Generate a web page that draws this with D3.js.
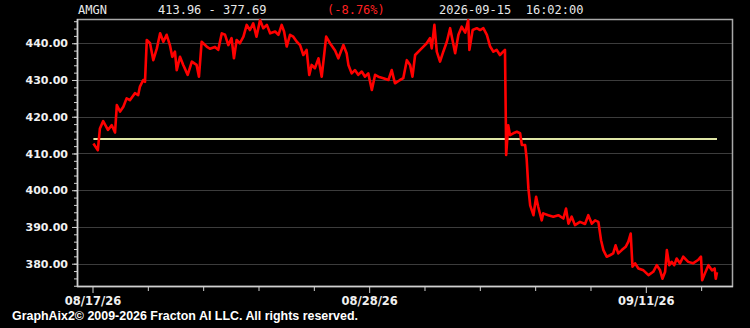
<!DOCTYPE html>
<html>
<head>
<meta charset="utf-8">
<script src="https://cdn.jsdelivr.net/npm/d3@7"></script>
<style>
  body { margin: 0; background: #000; }
  svg { display: block; }
</style>
</head>
<body>
<div id="chart"></div>
<script>
// quote header
var symbol = "AMGN";
var prevClose = 413.96;
var lastPrice = 377.69;
var changePct = "(-8.76%)";
var stamp = "2026-09-15  16:02:00";

// time in trading days since 08/17 open
var times = [0.03, 0.18, 0.25, 0.36, 0.52, 0.65, 0.76, 0.82, 0.93, 1.04, 1.15, 1.26, 1.43, 1.54, 1.60, 1.71, 1.77,
  1.83, 1.94, 2.05, 2.17, 2.28, 2.39, 2.50, 2.61, 2.69, 2.78, 2.84, 2.95, 3.06, 3.21, 3.35, 3.51, 3.59, 3.68,
  3.85, 3.96, 4.13, 4.24, 4.36, 4.47, 4.58, 4.69, 4.77, 4.86, 4.97, 5.09, 5.20, 5.31, 5.42, 5.53, 5.65, 5.76,
  5.88, 5.99, 6.16, 6.27, 6.38, 6.46, 6.55, 6.66, 6.77, 6.89, 7.00, 7.11, 7.22, 7.31, 7.39, 7.50, 7.62, 7.73,
  7.88, 8.01, 8.18, 8.29, 8.46, 8.57, 8.63, 8.74, 8.85, 8.96, 9.08, 9.19, 9.30, 9.42, 9.53, 9.64, 9.81, 9.98,
  10.09, 10.20, 10.37, 10.48, 10.60, 10.71, 10.79, 10.88, 11.05, 11.16, 11.27, 11.38, 11.44, 11.53, 11.61,
  11.72, 11.83, 11.95, 12.06, 12.14, 12.23, 12.34, 12.45, 12.57, 12.67, 12.71, 12.82, 12.96, 13.07, 13.18,
  13.30, 13.41, 13.52, 13.63, 13.74, 13.85, 13.91, 13.94, 13.95, 14.02, 14.08, 14.19, 14.31, 14.42, 14.48,
  14.59, 14.64, 14.70, 14.76, 14.87, 14.96, 15.03, 15.15, 15.20, 15.37, 15.54, 15.71, 15.88, 15.97, 16.05,
  16.16, 16.27, 16.44, 16.61, 16.72, 16.84, 16.95, 17.06, 17.15, 17.23, 17.34, 17.45, 17.56, 17.64, 17.73,
  17.85, 17.98, 18.07, 18.15, 18.21, 18.30, 18.41, 18.58, 18.75, 18.91, 19.03, 19.14, 19.22, 19.31, 19.37,
  19.45, 19.53, 19.62, 19.70, 19.81, 19.92, 20.09, 20.25, 20.42, 20.52, 20.56, 20.65, 20.77, 20.89, 20.98,
  21.02, 21.06];

var prices = [412.7, 410.9, 416.8, 418.8, 416.4, 417.7, 415.7, 423.2, 421.4, 422.7, 425.0, 424.5, 426.4, 425.9, 428.2, 430.0, 429.5,
  440.9, 440.0, 435.4, 438.6, 442.7, 440.4, 442.3, 439.5, 436.3, 437.7, 432.7, 436.3, 434.1, 431.4, 435.0, 434.1, 430.9, 440.4,
  439.1, 438.5, 439.0, 438.2, 442.7, 442.3, 439.5, 441.4, 435.9, 440.9, 440.0, 441.8, 445.0, 443.6, 445.4, 441.8, 446.3, 444.1,
  445.0, 442.7, 443.2, 442.3, 445.0, 443.2, 439.1, 442.3, 441.8, 440.4, 439.5, 436.8, 438.2, 431.4, 434.1, 433.2, 435.9, 430.9,
  441.8, 440.0, 438.0, 435.9, 439.5, 437.3, 434.1, 431.8, 432.7, 431.4, 432.3, 430.9, 431.8, 427.3, 431.4, 430.9, 430.5, 430.0,
  432.7, 429.1, 430.0, 430.5, 435.4, 434.1, 430.9, 436.8, 438.2, 439.1, 440.0, 441.4, 438.6, 445.0, 437.7,
  435.0, 437.7, 440.4, 444.1, 440.9, 437.3, 442.3, 444.5, 442.9, 446.3, 438.2, 443.6, 444.1, 443.6, 444.1,
  442.3, 439.1, 437.7, 438.2, 436.8, 437.7, 438.2, 417.7, 409.6, 417.7, 415.0, 415.5, 415.9, 415.5, 412.3,
  412.3, 408.7, 400.5, 395.9, 393.2, 398.2, 395.5, 391.8, 393.7, 393.2, 392.8, 393.2, 392.3, 395.0, 390.9,
  392.8, 390.5, 391.4, 390.8, 393.2, 390.9, 391.8, 391.4, 386.4, 383.7, 381.9, 382.3, 382.8, 385.0, 382.8,
  383.7, 384.6, 386.0, 388.2, 379.2, 380.1, 378.7, 378.2, 376.9, 377.8, 379.6, 378.2, 375.9, 377.8, 383.7,
  379.6, 380.5, 379.6, 381.4, 380.1, 381.9, 380.5, 380.1, 381.0, 381.9, 375.5, 377.3, 379.6, 378.2, 378.7,
  375.9, 377.69];

// axis ticks
var xTickValues = [0, 1.866, 3.732, 5.598, 7.464, 9.33, 11.196, 13.062, 14.928, 16.794, 18.66, 20.526];
var xTickLabels = ["08/17/26", "", "", "", "", "08/28/26", "", "", "", "", "09/11/26", ""];
var yTickValues = [380, 390, 400, 410, 420, 430, 440];

var svgWidth = 750;
var svgHeight = 328;

var margin = { top: 19, right: 17, bottom: 41, left: 77 };
var chartWidth = svgWidth - margin.left - margin.right;
var chartHeight = svgHeight - margin.top - margin.bottom;

var svg = d3.select("#chart")
  .append("svg")
  .attr("width", svgWidth)
  .attr("height", svgHeight)
  .style("background", "#000");

var chartGroup = svg.append("g")
  .attr("transform", `translate(${margin.left}, ${margin.top})`);

var xScale = d3.scaleLinear()
  .domain([-0.523, 21.6])
  .range([0, chartWidth]);

var yScale = d3.scaleLinear()
  .domain([373.66, 446.6])
  .range([chartHeight, 0]);

// gridlines
chartGroup.append("g")
  .selectAll("line")
  .data(yTickValues)
  .enter()
  .append("line")
  .attr("x1", 0)
  .attr("x2", chartWidth)
  .attr("y1", d => Math.round(yScale(d)) + 0.5)
  .attr("y2", d => Math.round(yScale(d)) + 0.5)
  .attr("stroke", "#3c3c3c")
  .attr("stroke-width", 1);

// frame
chartGroup.append("rect")
  .attr("x", 0.5)
  .attr("y", 0.5)
  .attr("width", chartWidth - 1)
  .attr("height", chartHeight - 1)
  .attr("fill", "none")
  .attr("stroke", "#a8a8a8")
  .attr("stroke-width", 1.5);

// previous close line
chartGroup.append("line")
  .attr("x1", xScale(times[0]))
  .attr("x2", xScale(times[times.length - 1]))
  .attr("y1", yScale(prevClose))
  .attr("y2", yScale(prevClose))
  .attr("stroke", "#dfe6a6")
  .attr("stroke-width", 2);

// price line
var line = d3.line()
  .x((d, i) => xScale(times[i]))
  .y(d => yScale(d));

chartGroup.append("path")
  .datum(prices)
  .attr("d", line)
  .attr("fill", "none")
  .attr("stroke", "#ff0000")
  .attr("stroke-width", 2.6)
  .attr("stroke-linejoin", "round");

// y axis
var yMinor = d3.range(374, 447, 2);
var leftAxis = d3.axisLeft(yScale)
  .tickValues(yMinor)
  .tickSize(3)
  .tickFormat("");

chartGroup.append("g")
  .call(leftAxis)
  .call(g => g.select(".domain").remove())
  .selectAll("line").attr("stroke", "#d0d0d0");

var leftMajor = d3.axisLeft(yScale)
  .tickValues(yTickValues)
  .tickSize(5)
  .tickPadding(4)
  .tickFormat(d3.format(".2f"));

var yAxis = chartGroup.append("g")
  .call(leftMajor);
yAxis.select(".domain").remove();
yAxis.selectAll("line").attr("stroke", "#d0d0d0");
yAxis.selectAll("text")
  .attr("fill", "#f0f0f0")
  .style("font-family", "DejaVu Sans")
  .style("font-weight", "bold")
  .style("font-size", "11px");

chartGroup.append("line")
  .attr("x1", 0.5).attr("x2", 0.5)
  .attr("y1", 0).attr("y2", chartHeight)
  .attr("stroke", "#d0d0d0")
  .attr("stroke-width", 1.5);

// x axis
var bottomAxis = d3.axisBottom(xScale)
  .tickValues(xTickValues)
  .tickSizeInner(4)
  .tickSizeOuter(0)
  .tickPadding(6)
  .tickFormat((d, i) => xTickLabels[i]);

var xAxis = chartGroup.append("g")
  .attr("transform", `translate(0, ${chartHeight})`)
  .call(bottomAxis);
xAxis.select(".domain").remove();
xAxis.selectAll("line")
  .attr("stroke", "#d0d0d0")
  .attr("y2", (d, i) => xTickLabels[i] ? 6 : 4);
xAxis.selectAll("text")
  .attr("fill", "#f0f0f0")
  .style("font-family", "DejaVu Sans")
  .style("font-weight", "bold")
  .style("font-size", "11.5px");

chartGroup.append("line")
  .attr("x1", 0).attr("x2", chartWidth)
  .attr("y1", chartHeight - 0.5).attr("y2", chartHeight - 0.5)
  .attr("stroke", "#d0d0d0")
  .attr("stroke-width", 1.5);

// header
var header = svg.append("g")
  .style("font-family", "DejaVu Sans Mono")
  .style("font-size", "12px");

header.append("text").attr("x", 78).attr("y", 14).attr("fill", "#e8e8e8").text(symbol);
header.append("text").attr("x", 158).attr("y", 14).attr("fill", "#e8e8e8")
  .text(`${prevClose.toFixed(2)} - ${lastPrice.toFixed(2)}`);
header.append("text").attr("x", 327).attr("y", 14).attr("fill", "#ff2020").text(changePct);
header.append("text").attr("x", 439).attr("y", 14).attr("fill", "#e8e8e8")
  .style("white-space", "pre").text(stamp);

// footer
svg.append("text")
  .attr("x", 12)
  .attr("y", 320)
  .attr("fill", "#ffffff")
  .attr("textLength", 346)
  .attr("lengthAdjust", "spacingAndGlyphs")
  .style("font-family", "Liberation Sans Narrow, Liberation Sans")
  .style("font-weight", "bold")
  .style("font-size", "12.5px")
  .text("GraphAix2\u00a9 2009-2026 Fracton AI LLC. All rights reserved.");
</script>
</body>
</html>
